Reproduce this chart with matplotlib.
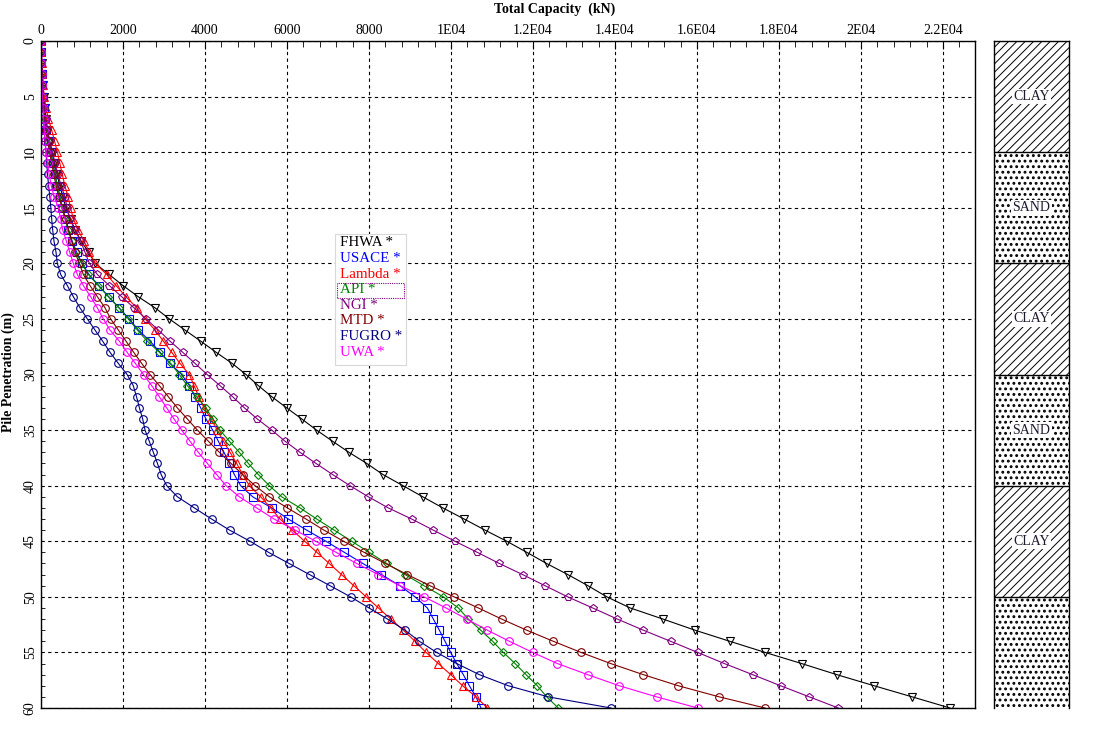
import matplotlib
matplotlib.use("Agg")
import matplotlib.pyplot as plt
from matplotlib.patches import Rectangle
from matplotlib.ticker import MultipleLocator

plt.rcParams['font.family'] = ['Liberation Serif', 'DejaVu Serif']

depth = list(range(0, 61))

fhwa = [0, 10, 20, 35, 50, 70, 95, 125, 160, 210, 270, 330, 390, 460, 530, 610, 720, 830, 980, 1160,
        1320, 1660, 2000, 2370, 2780, 3130, 3510, 3895, 4270, 4660, 5000, 5300, 5630, 5990, 6360, 6720,
        7110, 7510, 7945, 8340, 8830, 9310, 9800, 10320, 10830, 11360, 11850, 12330, 12850, 13340,
        13800, 14370, 15170, 15950, 16800, 17660, 18550, 19410, 20320, 21250, 22170]
usace = [0, 5, 10, 20, 30, 45, 65, 90, 130, 180, 240, 290, 340, 400, 460, 520, 590, 670, 760, 870,
         1000, 1170, 1410, 1650, 1903, 2154, 2374, 2659, 2903, 3146, 3431, 3618, 3756, 3894, 4024, 4187,
         4325, 4463, 4594, 4715, 4870, 5163, 5626, 6032, 6480, 6950, 7400, 7850, 8300, 8756,
         9122, 9423, 9569, 9716, 9854, 9992, 10138, 10300, 10447, 10610, 10732]
lambda_ = [0, 10, 20, 35, 50, 80, 120, 180, 260, 330, 400, 460, 520, 580, 660, 720, 790, 900, 1049, 1179,
           1317, 1602, 1830, 2073, 2333, 2537, 2781, 2984, 3187, 3390, 3618, 3732, 3850, 3976, 4150, 4300,
           4447, 4610, 4772, 4919, 5081, 5358, 5602, 5829, 6130, 6430, 6730, 7030, 7330, 7630,
           7930, 8230, 8530, 8837, 9122, 9390, 9691, 9992, 10284, 10610, 10887]
api = [0, 5, 10, 20, 30, 45, 65, 90, 130, 180, 240, 290, 340, 400, 460, 520, 590, 660, 750, 850,
       990, 1154, 1398, 1643, 1903, 2130, 2350, 2594, 2886, 3162, 3374, 3569, 3797, 4024, 4187, 4366,
       4594, 4837, 5057, 5301, 5569, 5870, 6317, 6724, 7150, 7580, 8000, 8430, 8880, 9341,
       9813, 10179, 10422, 10723, 11016, 11276, 11562, 11829, 12106, 12334, 12618]
ngi = [0, 5, 10, 20, 30, 50, 75, 110, 150, 210, 280, 340, 410, 490, 580, 640, 700, 830, 968, 1073,
       1179, 1374, 1667, 1968, 2268, 2561, 2862, 3146, 3455, 3756, 4050, 4366, 4675, 4960, 5276, 5627,
       5951, 6317, 6707, 7113, 7536, 7983, 8470, 9040, 9569, 10097, 10642, 11179, 11748, 12293,
       12845, 13455, 14057, 14690, 15357, 16015, 16667, 17358, 18040, 18740, 19446]
mtd = [0, 5, 10, 20, 30, 45, 60, 85, 115, 160, 210, 260, 310, 370, 430, 520, 600, 675, 748, 829,
       935, 1033, 1195, 1374, 1561, 1699, 1886, 2073, 2260, 2455, 2658, 2886, 3106, 3325, 3569, 3813,
       4082, 4350, 4634, 4919, 5220, 5569, 6008, 6463, 6900, 7380, 7880, 8400, 8935, 9488,
       10073, 10666, 11235, 11845, 12496, 13170, 13894, 14690, 15545, 16545, 17660]
fugro = [0, 5, 10, 15, 25, 35, 50, 65, 80, 100, 120, 140, 160, 185, 215, 240, 260, 285, 317, 366,
         398, 480, 642, 788, 951, 1130, 1317, 1504, 1683, 1886, 2100, 2250, 2330, 2400, 2480, 2537,
         2640, 2740, 2840, 2930, 3065, 3326, 3740, 4160, 4600, 5100, 5550, 6050, 6550, 7050,
         7550, 8000, 8450, 8878, 9228, 9650, 10140, 10690, 11400, 12375, 13900]
uwa = [0, 5, 10, 15, 25, 35, 50, 65, 80, 100, 125, 160, 200, 250, 320, 423, 480, 529, 620, 700,
       789, 886, 1033, 1211, 1374, 1520, 1683, 1911, 2100, 2300, 2500, 2700, 2886, 3065, 3244, 3431,
       3634, 3837, 4057, 4285, 4512, 4837, 5260, 5683, 6200, 6700, 7200, 7700, 8230, 8756,
       9341, 9878, 10382, 10886, 11423, 11992, 12593, 13333, 14105, 15016, 16015]

names = ['FHWA', 'USACE', 'Lambda', 'API', 'NGI', 'MTD', 'FUGRO', 'UWA']
series = [fhwa, usace, lambda_, api, ngi, mtd, fugro, uwa]
colors = ['black', '#0000ff', '#ff0000', '#008000', '#800080', '#800000', '#000080', '#ff00ff']
markers = ['v', 's', '^', 'D', 'p', 'o', 'o', 'o']

xticks = [0, 2000, 4000, 6000, 8000, 10000, 12000, 14000, 16000, 18000, 20000, 22000]
xtick_labels = ['0', '2000', '4000', '6000', '8000', '1E04', '1.2E04', '1.4E04',
                '1.6E04', '1.8E04', '2E04', '2.2E04']
yticks = [0, 5, 10, 15, 20, 25, 30, 35, 40, 45, 50, 55, 60]

layer_top = [0, 10, 20, 30, 40, 50]
layer_bot = [10, 20, 30, 40, 50, 60]
layer_soil = ['CLAY', 'SAND', 'CLAY', 'SAND', 'CLAY', 'SAND']
layer_label = ['CLAY', 'SAND', 'CLAY', 'SAND', 'CLAY', '']

W, H = 1102, 740
fig = plt.figure(figsize=(W / 100, H / 100), dpi=100)
ax = fig.add_axes([41 / W, 1 - 708 / H, (975 - 41) / W, 667 / H])

for name, vals, c, m in zip(names, series, colors, markers):
    ax.plot(vals, depth, color=c, lw=0.8, marker=m, ms=5.5 if m != 'D' else 4.5,
            mfc='none', mec=c, mew=0.8, label=name)

ax.set_xlim(0, 22780)
ax.set_ylim(60, 0)
ax.xaxis.tick_top()
ax.set_xticks(xticks)
ax.set_xticklabels(xtick_labels, fontsize=10)
ax.set_yticks(yticks)
ax.set_yticklabels([str(v) for v in yticks], fontsize=10, rotation=90, va='center')
ax.xaxis.set_minor_locator(MultipleLocator(400))
ax.yaxis.set_minor_locator(MultipleLocator(1))
ax.tick_params(axis='x', which='both', direction='in', top=True, bottom=False, pad=3)
ax.tick_params(axis='x', which='major', length=6)
ax.tick_params(axis='x', which='minor', length=4)
ax.tick_params(axis='y', which='both', direction='in', left=True, right=False, pad=3)
ax.tick_params(axis='y', which='major', length=0)
ax.tick_params(axis='y', which='minor', length=3)
ax.grid(True, which='major', color='black', ls=(0, (3, 3)), lw=0.8)
for s in ax.spines.values():
    s.set_linewidth(1.0)

fig.text(555 / W, 1 - 9 / H, 'Total Capacity  (kN)', ha='center', va='center',
         fontsize=10, fontweight='bold')
fig.text(8 / W, 1 - 372 / H, 'Pile Penetration (m)', ha='center', va='center',
         rotation=90, fontsize=10, fontweight='bold')

# legend drawn by hand, names followed by an asterisk
def px2ax(x, y):
    return (x - 41) / 934, 1 - (y - 41) / 667

bx0, by0 = px2ax(335, 365)
bx1, by1 = px2ax(406, 234)
ax.add_patch(Rectangle((bx0, by0), bx1 - bx0, by1 - by0, transform=ax.transAxes,
                       facecolor='white', edgecolor='#d8d8d8', lw=0.8, zorder=5))
for i, (name, c) in enumerate(zip(names, colors)):
    tx, ty = px2ax(340, 243 + i * 15.6)
    ax.text(tx, ty, name + ' *', transform=ax.transAxes, color=c, fontsize=10.8,
            ha='left', va='center', zorder=6)
rx0, ry0 = px2ax(337, 298)
rx1, ry1 = px2ax(404, 283)
ax.add_patch(Rectangle((rx0, ry0), rx1 - rx0, ry1 - ry0, transform=ax.transAxes,
                       facecolor='none', edgecolor='#800080', lw=0.8, ls=(0, (1, 1)), zorder=6))

# soil column
sx = fig.add_axes([994 / W, 1 - 708 / H, 75 / W, 667 / H])
sx.set_xlim(0, 1)
sx.set_ylim(60, 0)
for top, bot, soil, lab in zip(layer_top, layer_bot, layer_soil, layer_label):
    if soil == 'CLAY':
        hatch, hlw = '////', 0.7
    else:
        hatch, hlw = '...', 1.3
    plt.rcParams['hatch.linewidth'] = hlw
    p = Rectangle((0, top), 1, bot - top, facecolor='white', edgecolor='black',
                  hatch=hatch, lw=0)
    if hasattr(p, 'set_hatch_linewidth'):
        p.set_hatch_linewidth(hlw)
    sx.add_patch(p)
    if top > 0:
        sx.plot([0, 1], [top, top], color='black', lw=1)
    if lab:
        sx.text(0.5, (top + bot) / 2, lab, ha='center', va='center', fontsize=10,
                color='#1a1a30', bbox=dict(facecolor='white', edgecolor='none', pad=1))
sx.set_xticks([])
sx.set_yticks([])
sx.spines['bottom'].set_visible(False)
for s in ['top', 'left', 'right']:
    sx.spines[s].set_linewidth(1.0)

fig.savefig('out.png', dpi=100)
